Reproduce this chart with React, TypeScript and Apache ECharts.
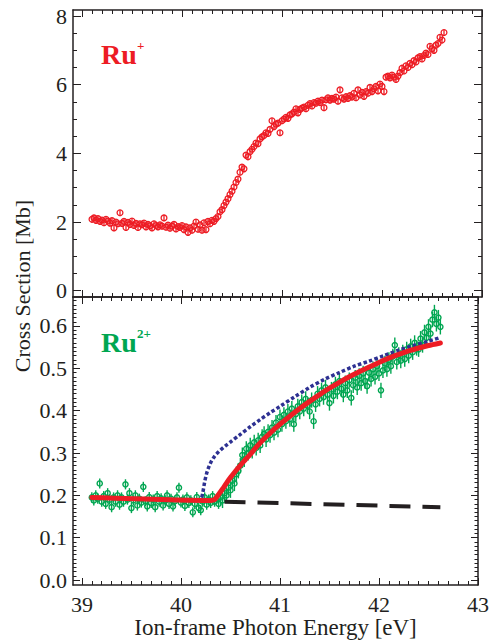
import React, { useEffect, useRef } from "react";
import * as echarts from "echarts";

// Sampling grid of the measured points (eV)
const energyStart = 39.1;
const energyStep = 0.02;

// Ru+ cross section [Mb], one value per sample from 39.10 to 42.62 eV
const ruPlusValues = [
  2.08, 2.12, 2.05, 2.10, 2.02, 2.06, 1.98, 2.08, 2.03, 1.97,
  2.04, 1.83, 2.00, 1.95, 2.27, 1.96, 2.02, 1.84, 1.99, 1.93,
  2.03, 1.90, 1.96, 1.84, 1.95, 1.92, 1.97, 1.86, 1.93, 1.89,
  1.83, 1.95, 1.90, 1.86, 1.92, 1.88, 2.12, 1.85, 1.91, 1.82,
  1.88, 1.93, 1.80, 1.87, 1.84, 1.90, 1.78, 1.86, 1.70, 1.83,
  1.76, 1.88, 2.00, 1.79, 1.92, 1.76, 1.98, 1.78, 2.02, 1.95,
  2.05, 2.02, 2.10, 2.16, 2.30, 2.36, 2.48, 2.58, 2.68, 2.80,
  2.90, 3.02, 3.15, 3.25, 3.45, 3.60, 3.55, 3.95, 3.90, 4.05,
  4.12, 4.20, 4.30, 4.28, 4.42, 4.48, 4.52, 4.60, 4.58, 4.70,
  4.95, 4.78, 4.85, 4.88, 4.60, 4.95, 5.00, 5.05, 5.02, 5.12,
  5.15, 5.20, 5.30, 5.18, 5.28, 5.32, 5.35, 5.30, 5.40, 5.45,
  5.38, 5.48, 5.46, 5.52, 5.48, 5.55, 5.33, 5.56, 5.62, 5.55,
  5.60, 5.58, 5.64, 5.52, 5.85, 5.62, 5.58, 5.65, 5.60, 5.68,
  5.64, 5.75, 5.62, 5.85, 5.70, 5.78, 5.66, 5.80, 5.75, 5.92,
  5.80, 5.88, 5.95, 5.82, 6.02, 5.95, 5.80, 6.22, 6.25, 6.20,
  6.28, 6.22, 6.15, 6.25, 6.35, 6.48, 6.40, 6.55, 6.50, 6.62,
  6.58, 6.70, 6.66, 6.78, 6.82, 6.75, 6.85, 6.92, 6.88, 7.12,
  7.05, 7.00, 7.15, 7.20, 7.38, 7.30, 7.52,
];
const ruPlusErr = 0.09;

// Ru2+ cross section [Mb], same sampling grid
const ru2PlusValues = [
  0.195, 0.188, 0.200, 0.192, 0.228, 0.185, 0.198, 0.180, 0.205, 0.190,
  0.172, 0.195, 0.185, 0.200, 0.178, 0.195, 0.185, 0.226, 0.190, 0.205,
  0.170, 0.188, 0.200, 0.176, 0.192, 0.183, 0.220, 0.186, 0.174, 0.196,
  0.182, 0.190, 0.172, 0.198, 0.185, 0.193, 0.176, 0.188, 0.200, 0.180,
  0.192, 0.174, 0.186, 0.195, 0.218, 0.183, 0.190, 0.175, 0.195, 0.182,
  0.188, 0.160, 0.180, 0.196, 0.170, 0.165, 0.185, 0.195, 0.178, 0.190,
  0.182, 0.198, 0.185, 0.192, 0.180, 0.195, 0.188, 0.205, 0.200, 0.218,
  0.212, 0.235, 0.228, 0.250, 0.258, 0.270, 0.295, 0.285, 0.310, 0.300,
  0.318, 0.305, 0.325, 0.312, 0.330, 0.318, 0.338, 0.345, 0.332, 0.350,
  0.342, 0.360, 0.348, 0.372, 0.355, 0.385, 0.368, 0.390, 0.375, 0.398,
  0.380, 0.405, 0.368, 0.392, 0.410, 0.398, 0.420, 0.405, 0.428, 0.412,
  0.398, 0.425, 0.375, 0.415, 0.440, 0.428, 0.448, 0.432, 0.455, 0.438,
  0.418, 0.450, 0.435, 0.462, 0.445, 0.470, 0.452, 0.438, 0.465, 0.448,
  0.472, 0.430, 0.460, 0.478, 0.455, 0.482, 0.465, 0.488, 0.470, 0.458,
  0.490, 0.475, 0.498, 0.480, 0.505, 0.488, 0.448, 0.495, 0.512, 0.498,
  0.520, 0.505, 0.528, 0.555, 0.515, 0.532, 0.518, 0.538, 0.522, 0.545,
  0.530, 0.552, 0.538, 0.560, 0.548, 0.545, 0.570, 0.555, 0.585, 0.572,
  0.598, 0.582, 0.615, 0.632, 0.605, 0.620, 0.598,
];
const ru2PlusErrBelow = 0.012; // below threshold
const ru2PlusErrAbove = 0.018; // above threshold
const ru2Threshold = 40.4;

// Model curves for Ru2+ [energy, value]
const fitTotal = [
  [39.1, 0.195], [40.3, 0.188], [40.34, 0.19], [40.38, 0.202], [40.42, 0.215],
  [40.46, 0.229], [40.5, 0.242], [40.55, 0.257], [40.6, 0.271], [40.65, 0.284],
  [40.7, 0.297], [40.75, 0.311], [40.8, 0.324], [40.85, 0.336], [40.9, 0.347],
  [40.95, 0.358], [41.0, 0.368], [41.1, 0.387], [41.2, 0.405], [41.3, 0.422],
  [41.4, 0.438], [41.5, 0.453], [41.6, 0.467], [41.7, 0.48], [41.8, 0.492],
  [41.9, 0.503], [42.0, 0.514], [42.1, 0.524], [42.2, 0.533], [42.3, 0.541],
  [42.4, 0.548], [42.5, 0.554], [42.62, 0.56],
];
const fitUnshifted = [
  [40.21, 0.195], [40.22, 0.205], [40.24, 0.232], [40.26, 0.252], [40.28, 0.266],
  [40.3, 0.277], [40.33, 0.289], [40.36, 0.298], [40.4, 0.307], [40.45, 0.317],
  [40.5, 0.326], [40.6, 0.344], [40.7, 0.362], [40.8, 0.379], [40.9, 0.395],
  [41.0, 0.41], [41.15, 0.433], [41.3, 0.455], [41.45, 0.474], [41.6, 0.49],
  [41.75, 0.505], [41.9, 0.517], [42.05, 0.53], [42.2, 0.543], [42.35, 0.554],
  [42.5, 0.564], [42.62, 0.573],
];
const fitBackground = [
  [40.44, 0.185], [42.62, 0.172],
];

// Axis ticks
const xMajorTicks = [39, 40, 41, 42, 43];
const topYMajorTicks = [0, 2, 4, 6, 8];
const bottomYMajorTicks = [0, 0.1, 0.2, 0.3, 0.4, 0.5, 0.6];
const xMinorStep = 0.1;
const topYMinorStep = 0.5;
const bottomYMinorStep = 0.01;

const RED = "#ed1c24";
const GREEN = "#00a651";
const BLUE = "#2e3192";
const BLACK = "#231f20";
const FONT = "Liberation Serif";

function steps(from: number, to: number, step: number): number[] {
  const out: number[] = [];
  const n = Math.round((to - from) / step);
  for (let i = 0; i <= n; i++) out.push(+(from + i * step).toFixed(4));
  return out;
}

const xMinorTicks = steps(39, 43, xMinorStep);
const topYMinorTicks = steps(0, 8, topYMinorStep);
const bottomYMinorTicks = steps(0, 0.66, bottomYMinorStep);

const X_MIN = 38.91;
const X_MAX = 43.0;
const TOP_Y_MIN = -0.183;
const TOP_Y_MAX = 8.175;
const BOT_Y_MIN = -0.0118;
const BOT_Y_MAX = 0.6685;

function errorBarSeries(name: string, data: number[][], color: string, xi: number, yi: number, r: number, lw: number) {
  return {
    type: "custom",
    name,
    xAxisIndex: xi,
    yAxisIndex: yi,
    clip: true,
    data,
    renderItem: (params: any, api: any) => {
      const x = api.value(0);
      const y = api.value(1);
      const e = api.value(2);
      const p = api.coord([x, y]);
      const lo = api.coord([x, y - e]);
      const hi = api.coord([x, y + e]);
      return {
        type: "group",
        children: [
          {
            type: "line",
            shape: { x1: p[0], y1: lo[1], x2: p[0], y2: hi[1] },
            style: { stroke: color, lineWidth: lw },
          },
          {
            type: "circle",
            shape: { cx: p[0], cy: p[1], r },
            style: { fill: "none", stroke: color, lineWidth: lw },
          },
        ],
      };
    },
  };
}

function xAxisDef(gridIndex: number, position: string, ticks: number[], len: number, major: boolean, labels: boolean) {
  return {
    type: "value",
    gridIndex,
    position,
    min: X_MIN,
    max: X_MAX,
    splitLine: { show: false },
    axisLine: { show: major, onZero: false, lineStyle: { color: BLACK, width: 1.5 } },
    axisTick: {
      show: true,
      inside: true,
      length: len,
      customValues: ticks,
      lineStyle: { color: BLACK, width: 1 },
    },
    axisLabel: labels
      ? { show: true, customValues: xMajorTicks, fontFamily: FONT, fontSize: 22, color: BLACK, margin: 8 }
      : { show: false },
    ...(labels
      ? {
          name: "Ion-frame Photon Energy [eV]",
          nameLocation: "middle",
          nameGap: 31,
          nameTextStyle: { fontFamily: FONT, fontSize: 23, color: BLACK },
        }
      : {}),
  };
}

function yAxisDef(
  gridIndex: number,
  position: string,
  min: number,
  max: number,
  ticks: number[],
  len: number,
  major: boolean,
  labelValues: number[] | null,
  fmt: (v: number) => string
) {
  return {
    type: "value",
    gridIndex,
    position,
    min,
    max,
    splitLine: { show: false },
    axisLine: { show: major, onZero: false, lineStyle: { color: BLACK, width: 1.5 } },
    axisTick: {
      show: true,
      inside: true,
      length: len,
      customValues: ticks,
      lineStyle: { color: BLACK, width: 1 },
    },
    axisLabel: labelValues
      ? {
          show: true,
          customValues: labelValues,
          formatter: fmt,
          fontFamily: FONT,
          fontSize: 22,
          color: BLACK,
          margin: 6,
        }
      : { show: false },
  };
}

export default function App() {
  const ref = useRef<HTMLDivElement>(null);

  useEffect(() => {
    if (!ref.current) return;
    const chart = echarts.init(ref.current, null, { renderer: "svg" });

    const ruPlusData = ruPlusValues.map((v, i) => [
      +(energyStart + i * energyStep).toFixed(2),
      v,
      ruPlusErr,
    ]);
    const ru2PlusData = ru2PlusValues.map((v, i) => {
      const e = +(energyStart + i * energyStep).toFixed(2);
      return [e, v, e < ru2Threshold ? ru2PlusErrBelow : ru2PlusErrAbove];
    });

    const intFmt = (v: number) => String(Math.round(v));
    const decFmt = (v: number) => v.toFixed(1);

    const option: any = {
      animation: false,
      backgroundColor: "#ffffff",
      textStyle: { fontFamily: FONT },
      grid: [
        { left: 73, right: 10, top: 10, height: 287 },
        { left: 73, right: 10, top: 297, height: 288 },
      ],
      xAxis: [
        xAxisDef(0, "bottom", xMajorTicks, 7, true, false),
        xAxisDef(0, "bottom", xMinorTicks, 4, false, false),
        xAxisDef(0, "top", xMajorTicks, 7, true, false),
        xAxisDef(0, "top", xMinorTicks, 4, false, false),
        xAxisDef(1, "bottom", xMajorTicks, 7, true, true),
        xAxisDef(1, "bottom", xMinorTicks, 4, false, false),
        xAxisDef(1, "top", xMajorTicks, 7, true, false),
        xAxisDef(1, "top", xMinorTicks, 4, false, false),
      ],
      yAxis: [
        yAxisDef(0, "left", TOP_Y_MIN, TOP_Y_MAX, topYMajorTicks, 8, true, topYMajorTicks, intFmt),
        yAxisDef(0, "left", TOP_Y_MIN, TOP_Y_MAX, topYMinorTicks, 4, false, null, intFmt),
        yAxisDef(0, "right", TOP_Y_MIN, TOP_Y_MAX, topYMajorTicks, 8, true, null, intFmt),
        yAxisDef(0, "right", TOP_Y_MIN, TOP_Y_MAX, topYMinorTicks, 4, false, null, intFmt),
        yAxisDef(1, "left", BOT_Y_MIN, BOT_Y_MAX, bottomYMajorTicks, 7, true, bottomYMajorTicks, decFmt),
        yAxisDef(1, "left", BOT_Y_MIN, BOT_Y_MAX, bottomYMinorTicks, 3.5, false, null, decFmt),
        yAxisDef(1, "right", BOT_Y_MIN, BOT_Y_MAX, bottomYMajorTicks, 7, true, null, decFmt),
        yAxisDef(1, "right", BOT_Y_MIN, BOT_Y_MAX, bottomYMinorTicks, 3.5, false, null, decFmt),
      ],
      series: [
        errorBarSeries("Ru+", ruPlusData, RED, 0, 0, 2.9, 1.3),
        errorBarSeries("Ru2+", ru2PlusData, GREEN, 4, 4, 2.6, 1.4),
        {
          type: "line",
          name: "background",
          xAxisIndex: 4,
          yAxisIndex: 4,
          data: fitBackground,
          showSymbol: false,
          symbol: "none",
          lineStyle: { color: BLACK, width: 4, type: [21, 12], cap: "butt" },
          z: 3,
        },
        {
          type: "line",
          name: "unshifted",
          xAxisIndex: 4,
          yAxisIndex: 4,
          data: fitUnshifted,
          showSymbol: false,
          symbol: "none",
          smooth: 0.3,
          lineStyle: { color: BLUE, width: 3.5, type: [3.5, 2.3], cap: "butt" },
          z: 4,
        },
        {
          type: "line",
          name: "fit",
          xAxisIndex: 4,
          yAxisIndex: 4,
          data: fitTotal,
          showSymbol: false,
          symbol: "none",
          smooth: 0.2,
          lineStyle: { color: RED, width: 5, cap: "round" },
          z: 5,
        },
      ],
      graphic: [
        {
          type: "text",
          left: 101,
          top: 40,
          style: { text: "Ru", fill: RED, fontFamily: FONT, fontSize: 28, fontWeight: "bold" },
        },
        {
          type: "text",
          left: 137,
          top: 39,
          style: { text: "+", fill: RED, fontFamily: FONT, fontSize: 13, fontWeight: "bold" },
        },
        {
          type: "text",
          left: 101,
          top: 328,
          style: { text: "Ru", fill: GREEN, fontFamily: FONT, fontSize: 28, fontWeight: "bold" },
        },
        {
          type: "text",
          left: 137,
          top: 327,
          style: { text: "2+", fill: GREEN, fontFamily: FONT, fontSize: 13, fontWeight: "bold" },
        },
        {
          type: "text",
          x: 22,
          y: 286,
          rotation: Math.PI / 2,
          style: {
            text: "Cross Section [Mb]",
            fill: BLACK,
            fontFamily: FONT,
            fontSize: 22,
            align: "center",
            verticalAlign: "middle",
          },
        },
      ],
    };

    chart.setOption(option);
    return () => chart.dispose();
  }, []);

  return (
    <div
      ref={ref}
      style={{ position: "fixed", left: 0, top: 0, width: 492, height: 644, background: "#fff" }}
    />
  );
}
